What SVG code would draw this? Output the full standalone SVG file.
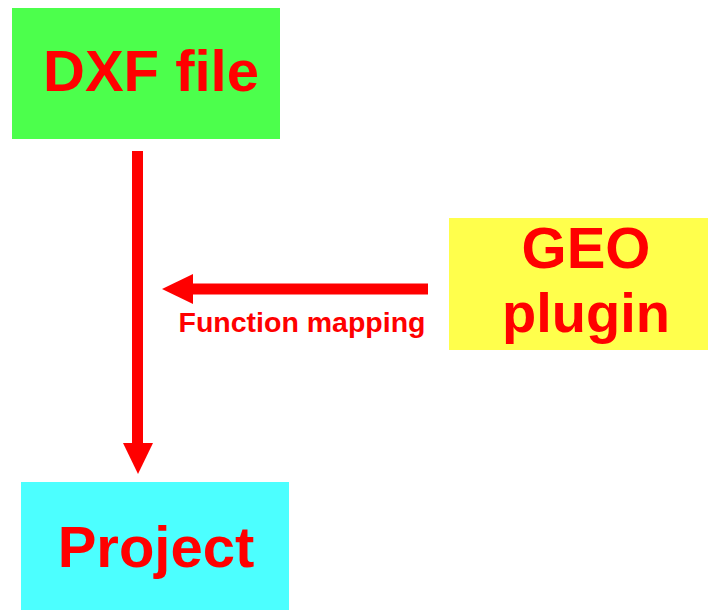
<svg xmlns="http://www.w3.org/2000/svg" width="709" height="610" viewBox="0 0 709 610">
<style>
.lbl{font-family:"Liberation Sans",Arial,sans-serif;font-weight:bold;fill:#ff0000;text-anchor:middle}
.big{font-size:58px}
.small{font-size:28.5px}
.conn{stroke:#ff0000;stroke-width:11;fill:none}
.head{fill:#ff0000}
</style>
<rect width="709" height="610" fill="#ffffff"/>
<g id="dxf">
<rect x="12" y="8" width="268" height="131" fill="#4cff4c"/>
<text class="lbl big" x="151" y="91">DXF file</text>
</g>
<g id="geo">
<rect x="449" y="218" width="259" height="132" fill="#ffff4c"/>
<text class="lbl big" x="586" y="268">GEO</text>
<text class="lbl big" x="586" y="332" style="font-size:56px">plugin</text>
</g>
<g id="project">
<rect x="21" y="482" width="268" height="128" fill="#4cffff"/>
<text class="lbl big" x="156" y="567">Project</text>
</g>
<g id="connectors">
<line class="conn" x1="137.5" y1="151" x2="137.5" y2="445"/>
<polygon class="head" points="123,443 153,443 138,474"/>
<line class="conn" x1="428" y1="289" x2="190" y2="289"/>
<polygon class="head" points="193,274 193,304 162,289"/>
<text class="lbl small" x="302" y="332">Function mapping</text>
</g>
</svg>
